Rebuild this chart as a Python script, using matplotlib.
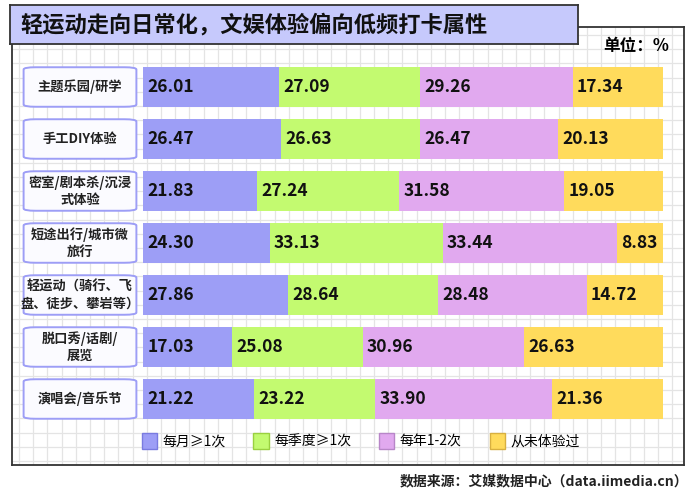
import matplotlib.pyplot as plt
import matplotlib.patches as mpatches
import numpy as np

plt.rcParams['font.family'] = ['Noto Sans CJK SC', 'DejaVu Sans']

categories = ['主题乐园/研学', '手工DIY体验', '密室/剧本杀/沉浸\n式体验', '短途出行/城市微\n旅行',
              '轻运动（骑行、飞\n盘、徒步、攀岩等）', '脱口秀/话剧/\n展览', '演唱会/音乐节']
series_names = ['每月≥1次', '每季度≥1次', '每年1-2次', '从未体验过']
monthly = [26.01, 26.47, 21.83, 24.30, 27.86, 17.03, 21.22]
quarterly = [27.09, 26.63, 27.24, 33.13, 28.64, 25.08, 23.22]
yearly = [29.26, 26.47, 31.58, 33.44, 28.48, 30.96, 33.90]
never = [17.34, 20.13, 19.05, 8.83, 14.72, 26.63, 21.36]
colors = ['#9d9ef6', '#c3fa70', '#e1a9ef', '#ffdb5c']
edges = ['#7a7be0', '#9ad040', '#b886c8', '#d8b040']

W, H = 700, 493
fig = plt.figure(figsize=(7, 4.93), dpi=100)

def px_axes(x0, y0, x1, y1, **kw):
    return fig.add_axes([x0 / W, 1 - y1 / H, (x1 - x0) / W, (y1 - y0) / H], **kw)

# grid background inside frame
bg = px_axes(12, 27, 684, 465)
bg.set_xlim(12, 684)
bg.set_ylim(465, 27)
for x in np.arange(19, 684, 14.2):
    bg.axvline(x, color='#e4e4e4', lw=0.9)
for y in np.arange(35, 465, 14.2):
    bg.axhline(y, color='#e4e4e4', lw=0.9)
bg.set_xticks([])
bg.set_yticks([])
for s in bg.spines.values():
    s.set_color('#333333')
    s.set_linewidth(1.3)

# title box
tax = px_axes(10, 5, 578, 44)
tax.set_facecolor('#c6c9fc')
tax.set_xticks([])
tax.set_yticks([])
for s in tax.spines.values():
    s.set_color('#333333')
    s.set_linewidth(1.3)
tax.text(0.018, 0.48, '轻运动走向日常化，文娱体验偏向低频打卡属性', transform=tax.transAxes,
         fontsize=16, fontweight='bold', va='center', ha='left', color='#111111')

fig.text(669 / W, 1 - 46 / H, '单位：%', fontsize=12, fontweight='bold', ha='right', va='center')

# bars
ax = px_axes(143, 61, 665, 425)
ax.set_xlim(0, 100)
ax.set_ylim(len(categories) - 0.5, -0.5)
ax.axis('off')
ax.patch.set_alpha(0)
y = np.arange(len(categories))
data = [monthly, quarterly, yearly, never]
left = np.zeros(len(categories))
for vals, c in zip(data, colors):
    vals = np.array(vals)
    ax.barh(y, vals, left=left, height=0.77, color=c, edgecolor='none')
    for yi, l, v in zip(y, left, vals):
        ax.text(l + 0.8, yi, f'{v:.2f}', va='center', ha='left', fontsize=12.5,
                fontweight='bold', color='#111111')
    left += vals

# category label boxes
lax = px_axes(20, 61, 140, 425)
lax.set_xlim(0, 1)
lax.set_ylim(len(categories) - 0.5, -0.5)
lax.axis('off')
lax.patch.set_alpha(0)
for yi, cat in zip(y, categories):
    box = mpatches.FancyBboxPatch((0.03, yi - 0.38), 0.94, 0.76,
                                  boxstyle='round,pad=0,rounding_size=0.1',
                                  facecolor='#fbfbff', edgecolor='#9d9ef6', lw=1.4,
                                  mutation_aspect=1 / 2.3)
    lax.add_patch(box)
    lax.text(0.5, yi, cat, ha='center', va='center', fontsize=9.5,
             fontweight='bold', linespacing=1.3, color='#222222')

# legend
handles = [mpatches.Patch(facecolor=c, edgecolor=e, label=n)
           for c, e, n in zip(colors, edges, series_names)]
fig.legend(handles=handles, loc='center left', bbox_to_anchor=(129 / W, 1 - 441 / H),
           ncol=4, frameon=False, fontsize=10, handlelength=1.1, handleheight=1.4,
           handletextpad=0.4, columnspacing=2.0)

fig.text(688 / W, 1 - 481 / H, '数据来源：艾媒数据中心（data.iimedia.cn）',
         fontsize=10, fontweight='bold', ha='right', va='center', color='#222222')

fig.savefig('out.png', dpi=100)
